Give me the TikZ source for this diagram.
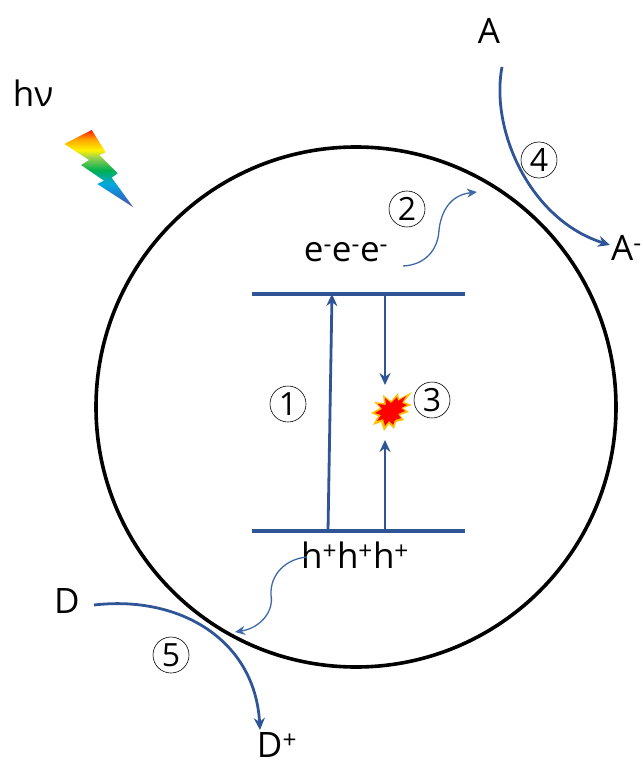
\documentclass[tikz,border=0pt]{standalone}
\usepackage{fontspec}
\setmainfont{Open Sans}
\usetikzlibrary{arrows.meta}
\definecolor{lineblue}{HTML}{2F5597}
\definecolor{thinblue}{HTML}{3F68A8}
\definecolor{boltviolet}{HTML}{6A4FA0}
\definecolor{boltblue}{HTML}{2A6FC8}
\definecolor{boltcyan}{HTML}{00A8E0}
\definecolor{boltgreen}{HTML}{00B050}
\definecolor{boltlime}{HTML}{92D050}
\definecolor{boltyellow}{HTML}{FFF200}
\definecolor{boltorange}{HTML}{FFA500}
\definecolor{boltred}{HTML}{FF1A00}
\pgfdeclareverticalshading{boltrainbow}{100bp}{
 color(0bp)=(boltviolet);
 color(25bp)=(boltviolet);
 color(31bp)=(boltblue);
 color(40bp)=(boltcyan);
 color(49bp)=(boltgreen);
 color(57bp)=(boltlime);
 color(62bp)=(boltyellow);
 color(69bp)=(boltorange);
 color(75bp)=(boltred);
 color(100bp)=(boltred)}
\tikzset{
 lbl/.style={inner sep=0pt,text=black,font=\fontsize{35}{37}\selectfont},
 num/.style={draw=black,line width=0.6pt,circle,minimum size=36pt,inner sep=0pt,font=\fontsize{32}{34}\selectfont},
 level/.style={draw=lineblue,line width=3.2pt},
 smallarrow/.style={draw=lineblue,line width=2.8pt,-{Stealth[length=12pt,width=11pt]}},
 wavearrow/.style={draw=thinblue,line width=1.3pt,-{Stealth[length=10pt,width=9pt]}}
}
\begin{document}
\begin{tikzpicture}[x=1pt,y=-1pt]
\useasboundingbox (0,0) rectangle (642,762);
% particle
\node[draw=black,line width=3.6pt,circle,minimum size=520pt,inner sep=0pt] (particle) at (356,407) {};
% bolt
\begin{scope}
\clip (91.7,130) -- (105.7,152.3) -- (99.3,155) -- (117.7,173.3) -- (111.7,177.7) -- (133.3,207.3) -- (97.3,184) -- (104,180.7) -- (81,165) -- (89,160) -- (64.3,144) -- cycle;
\shade[shading=boltrainbow] (60,130) rectangle (137,207.3);
\end{scope}
% levels
\coordinate (t1) at (252,294); \coordinate (t2) at (465,294);
\coordinate (b1) at (252,531); \coordinate (b2) at (465,531);
\draw[level] (t1) -- (t2);
\draw[level] (b1) -- (b2);
\coordinate (up1s) at (328,531); \coordinate (up1e) at (332,294);
\coordinate (dn1s) at (385,294); \coordinate (dn1e) at (385,385);
\coordinate (up2s) at (385,531); \coordinate (up2e) at (385,440);
\draw[smallarrow] (up1s) -- (up1e);
\draw[smallarrow] (dn1s) -- (dn1e);
\draw[smallarrow] (up2s) -- (up2e);
% burst
\fill[orange!50!yellow] (404,402)
 -- (412,392) -- (399,399) -- (398,393) -- (391,401) -- (383,395) -- (384,403) -- (374,402) -- (380,408)
 -- (371,413) -- (378,416) -- (373,425) -- (381,422) -- (384,431) -- (389,424) -- (394,429) -- (396,422) -- (404,420) -- (400,415) -- (409,412) -- (403,408) -- (412,405) -- cycle;
\fill[red] (402,403)
 -- (406,396) -- (398,401) -- (397,397) -- (391,403) -- (385,398) -- (386,405) -- (378,404) -- (382,409)
 -- (375,413) -- (381,415) -- (377,421) -- (383,419) -- (385,426) -- (389,421) -- (393,425) -- (395,420) -- (401,418) -- (398,414) -- (405,411) -- (401,408) -- (407,405) -- cycle;
% labels
\node[lbl] (hv) at (33,93) {hν};
\node[lbl] (A) at (489,31) {A};
\node[lbl,anchor=west] (Am) at (611,248) {A\textsuperscript{-}};
\node[lbl] (D) at (67,601) {D};
\node[lbl] (Dp) at (277,745) {D\textsuperscript{+}};
\node[lbl] (el) at (346,252) {e\textsuperscript{-}e\textsuperscript{-}e\textsuperscript{-}};
\node[lbl] (ho) at (355,555) {h\textsuperscript{+}h\textsuperscript{+}h\textsuperscript{+}};
\node[num] (n1) at (288,404) {1};
\node[num] (n2) at (407,209) {2};
\node[num] (n3) at (432,400) {3};
\node[num] (n4) at (539,160) {4};
\node[num] (n5) at (171,655) {5};
% transfer arrows
\coordinate (as) at (502,67); \coordinate (ae) at (610,245);
\coordinate (ds) at (94,605); \coordinate (de) at (260,730);
\draw[smallarrow] (as) .. controls (490,130) and (530,220) .. (ae);
\draw[smallarrow] (ds) .. controls (180,595) and (255,640) .. (de);
\coordinate (ws) at (403,266); \coordinate (wm) at (439,230); \coordinate (we) at (477,192);
\draw[wavearrow] (ws) .. controls (425,265) and (438,250) .. (wm) .. controls (441,212) and (450,195) .. (we);
\coordinate (hs) at (307,557); \coordinate (hm) at (271,595); \coordinate (he) at (235,632);
\draw[wavearrow] (hs) .. controls (285,559) and (270,575) .. (hm) .. controls (274,612) and (260,628) .. (he);
\end{tikzpicture}
\end{document}
